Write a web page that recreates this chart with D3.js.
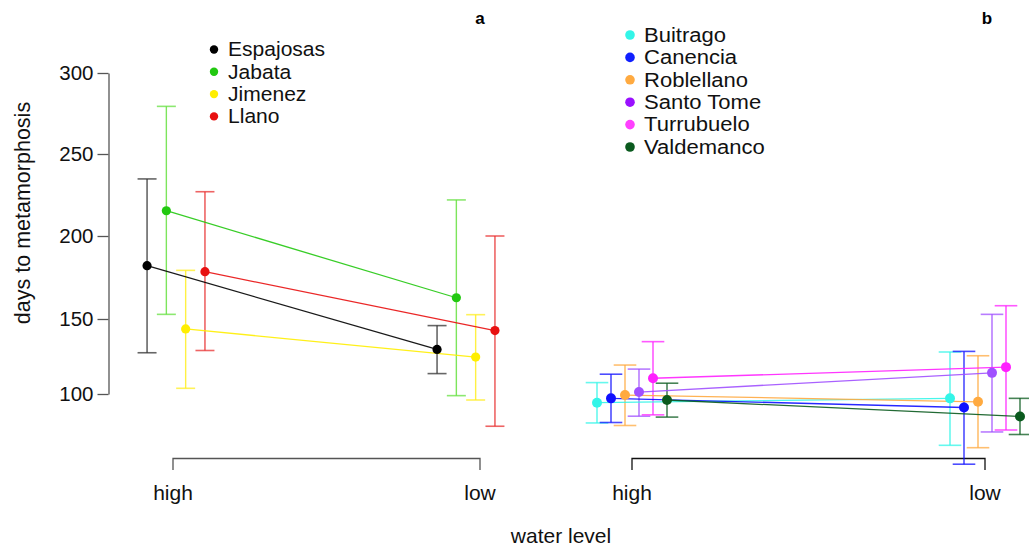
<!DOCTYPE html>
<html><head><meta charset="utf-8">
<script src="https://cdn.jsdelivr.net/npm/d3@7"></script>
<style>body{margin:0;background:#fff}svg{display:block;font-family:"Liberation Sans",Arial,sans-serif}</style>
</head><body><svg id="c" width="1029" height="549"></svg>
<script>
// ---- data ----
const levels = ["high", "low"];
const yTicks = [100, 150, 200, 250, 300];

const sitesA = ["Espajosas", "Jabata", "Jimenez", "Llano"];
const colorsA = ["#000000", "#22c810", "#ffee00", "#e81010"];
const barColorsA = ["#333333", "#66e040", "#ffee22", "#e83030"];
const meanA_high = [182.1, 215.4, 143.4, 178.5];
const upA_high   = [234.8, 279.4, 179.3, 227.0];
const loA_high   = [127.5, 152.8, 103.8, 129.0];
const meanA_low  = [129.7, 162.8, 124.6, 142.3];
const upA_low    = [145.6, 222.0, 152.6, 200.0];
const loA_low    = [113.6, 98.9, 96.0, 78.5];

const sitesB = ["Buitrago", "Canencia", "Roblellano", "Santo Tome", "Turrubuelo", "Valdemanco"];
const colorsB = ["#33f5e8", "#1010ff", "#ffaa40", "#a050ff", "#ff20ff", "#0a5a1e"];
const legendColorsB = ["#33f5e8", "#1020ff", "#ffaa40", "#9a10ff", "#ff40ff", "#0a5a1e"];
const meanB_high = [94.2, 97.1, 99.3, 101.3, 110.5, 96.0];
const upB_high   = [107.6, 113.2, 119.3, 116.6, 134.9, 107.2];
const loB_high   = [80.7, 81.0, 79.0, 85.2, 86.1, 84.6];
const meanB_low  = [97.1, 91.0, 94.8, 114.1, 117.9, 85.0];
const upB_low    = [128.0, 128.4, 125.5, 152.8, 158.0, 97.1];
const loB_low    = [65.8, 53.2, 64.2, 74.7, 76.0, 73.0];

// ---- drawing ----
const svg = d3.select("#c");
const y = d3.scaleLinear().domain([100, 150, 200, 250, 300]).range([394, 319, 236, 154, 73]);

// y axis
const yAxisG = svg.append("g").attr("transform", "translate(108.5,0)")
  .call(d3.axisLeft(y).tickValues(yTicks).tickSize(11).tickPadding(4).tickSizeOuter(0));
yAxisG.select(".domain").attr("stroke", "#555").attr("stroke-width", 1.3);
yAxisG.selectAll(".tick line").attr("stroke", "#555").attr("stroke-width", 1.3);
yAxisG.selectAll(".tick text").attr("font-size", 20.5).attr("fill", "#111")
  .attr("font-family", "Liberation Sans, Arial, sans-serif");

svg.append("text").attr("transform", "translate(30,213) rotate(-90)")
  .attr("text-anchor", "middle").attr("font-size", 21.5).attr("fill", "#111")
  .text("days to metamorphosis");

function bracket(xs, color) {
  const g = svg.append("g");
  const [x0, x1] = xs.range();
  g.append("path").attr("d", `M${x0},470V458.5H${x1}V470`).attr("fill", "none")
    .attr("stroke", color).attr("stroke-width", 1.3);
  levels.forEach((l, i) => {
    g.append("text").attr("x", xs(i + 1)).attr("y", 500).attr("text-anchor", "middle")
      .attr("font-size", 21).attr("fill", "#111").text(l);
  });
}

function panel(opts) {
  const { xs, centers, step, sites, colors, barColors, mh, uh, lh, ml, ul, ll, r, cap } = opts;
  const n = sites.length;
  const xpos = (gi, si) => xs(centers[gi]) + (si - (n - 1) / 2) * step;
  const g = svg.append("g");
  sites.forEach((s, i) => {
    const bc = barColors[i];
    const sets = [[mh[i], uh[i], lh[i]], [ml[i], ul[i], ll[i]]];
    sets.forEach((d, gi) => {
      const x = xpos(gi, i);
      g.append("line").attr("x1", x).attr("x2", x).attr("y1", y(d[1])).attr("y2", y(d[2]))
        .attr("stroke", bc).attr("stroke-width", 1.4).attr("stroke-opacity", 0.85);
      [d[1], d[2]].forEach(v => {
        g.append("line").attr("x1", x - cap).attr("x2", x + cap).attr("y1", y(v)).attr("y2", y(v))
          .attr("stroke", bc).attr("stroke-width", 1.6).attr("stroke-opacity", 0.75);
      });
    });
  });
  sites.forEach((s, i) => {
    g.append("line").attr("x1", xpos(0, i)).attr("x2", xpos(1, i))
      .attr("y1", y(mh[i])).attr("y2", y(ml[i]))
      .attr("stroke", colors[i]).attr("stroke-width", 1.3).attr("stroke-opacity", 0.9);
  });
  sites.forEach((s, i) => {
    [mh[i], ml[i]].forEach((v, gi) => {
      g.append("circle").attr("cx", xpos(gi, i)).attr("cy", y(v)).attr("r", r)
        .attr("fill", colors[i]);
    });
  });
}

const xA = d3.scaleLinear().domain([1, 2]).range([173, 480]);
const xB = d3.scaleLinear().domain([1, 2]).range([632, 985]);
bracket(xA, "#555");
bracket(xB, "#111");

panel({ xs: xA, centers: [1.0098, 1.9544], step: 19.3, sites: sitesA, colors: colorsA, barColors: barColorsA,
  mh: meanA_high, uh: upA_high, lh: loA_high, ml: meanA_low, ul: upA_low, ll: loA_low, r: 4.6, cap: 9.5 });
panel({ xs: xB, centers: [1, 2], step: 14, sites: sitesB, colors: colorsB, barColors: colorsB,
  mh: meanB_high, uh: upB_high, lh: loB_high, ml: meanB_low, ul: upB_low, ll: loB_low, r: 5, cap: 11.3 });

// legends
function legend(x, y0, dy, names, cols, r, fs, sx) {
  names.forEach((nm, i) => {
    svg.append("circle").attr("cx", x).attr("cy", y0 + i * dy).attr("r", r).attr("fill", cols[i]);
    svg.append("text").attr("transform", `translate(${x + 14},${y0 + i * dy + 6.8}) scale(${sx},1)`)
      .attr("font-size", fs).attr("fill", "#111").text(nm);
  });
}
legend(214, 49.5, 22.3, sitesA, colorsA, 4.2, 19.5, 1.08);
legend(630, 35, 22.4, sitesB, legendColorsB, 4.8, 19.5, 1.13);

svg.append("text").attr("x", 480).attr("y", 24).attr("text-anchor", "middle")
  .attr("font-size", 17).attr("font-weight", "bold").text("a");
svg.append("text").attr("x", 987).attr("y", 24).attr("text-anchor", "middle")
  .attr("font-size", 17).attr("font-weight", "bold").text("b");
svg.append("text").attr("x", 561).attr("y", 543).attr("text-anchor", "middle")
  .attr("font-size", 21).attr("fill", "#111").text("water level");
</script></body></html>
